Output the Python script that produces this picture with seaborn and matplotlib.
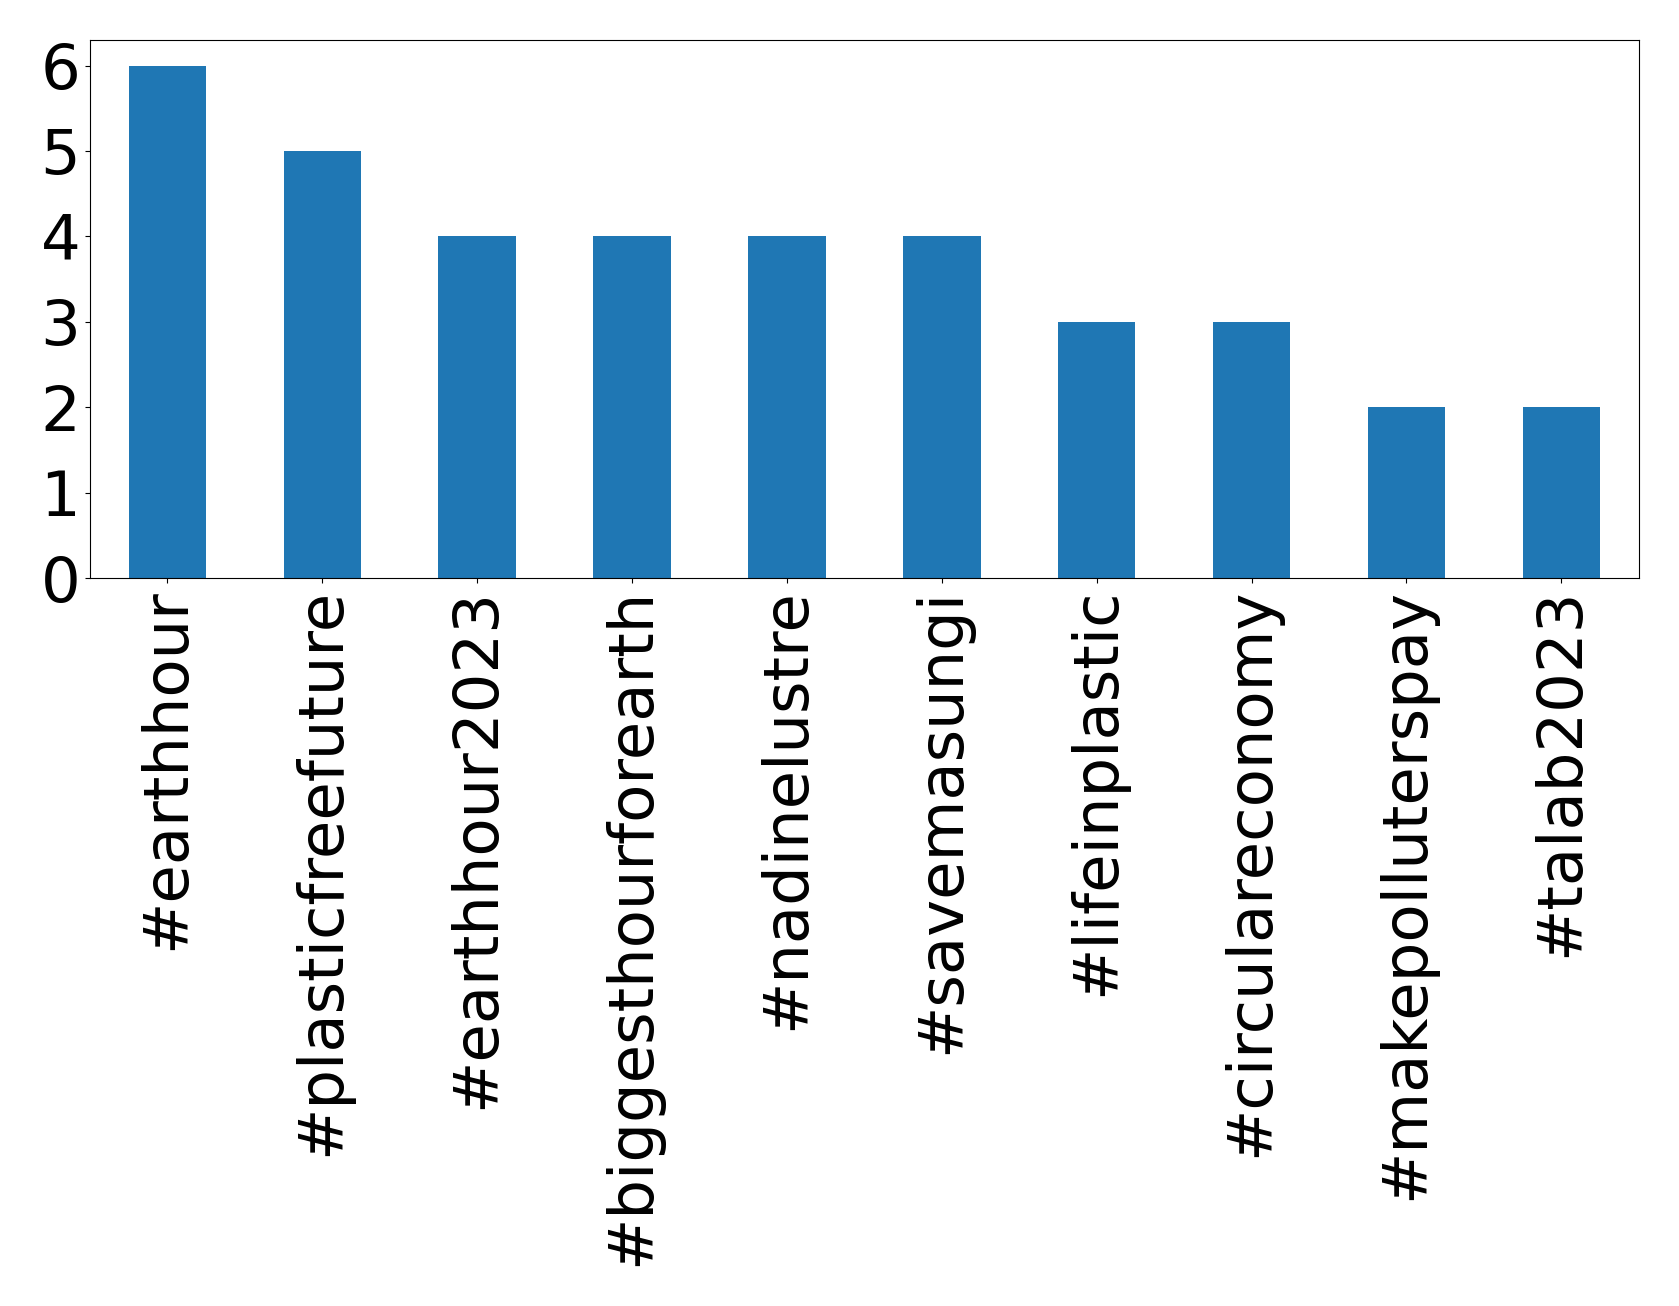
import matplotlib
matplotlib.use("Agg")
import matplotlib.pyplot as plt
import seaborn as sns
import pandas as pd

hashtags = ['#earthhour', '#plasticfreefuture', '#earthhour2023', '#biggesthourforearth',
            '#nadinelustre', '#savemasungi', '#lifeinplastic', '#circulareconomy',
            '#makepolluterspay', '#talab2023']
counts = [6, 5, 4, 4, 4, 4, 3, 3, 2, 2]
yticks = [0, 1, 2, 3, 4, 5, 6]

df = pd.DataFrame({'hashtag': hashtags, 'count': counts})

fig, ax = plt.subplots(figsize=(16.79, 13.06), dpi=100)
fig.subplots_adjust(left=0.0536, right=0.976, top=0.9694, bottom=0.5574)
sns.barplot(data=df, x='hashtag', y='count', color='#1f77b4', saturation=1,
            width=0.5, ax=ax, linewidth=0)
ax.set_xlim(-0.5, 9.5)
ax.set_ylim(0, 6.3)
ax.set_yticks(yticks)
ax.set_xlabel('')
ax.set_ylabel('')
ax.tick_params(axis='both', labelsize=45)
ax.tick_params(axis='x', labelrotation=90)
fig.savefig('out.png', dpi=100)
